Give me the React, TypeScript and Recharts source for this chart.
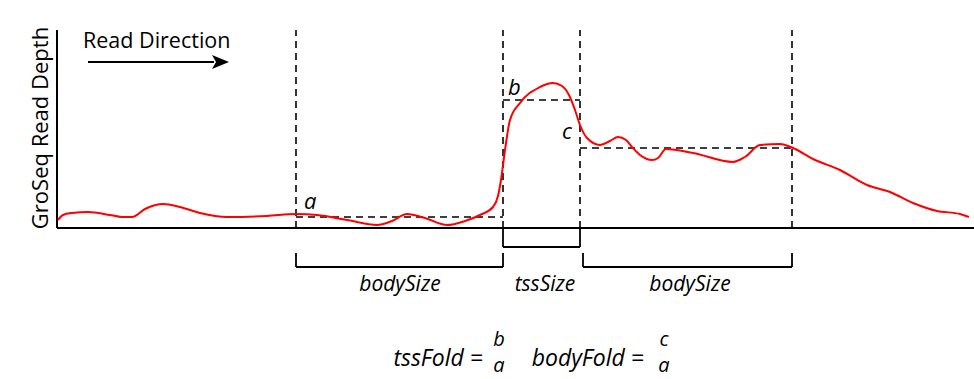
import {
  ComposedChart,
  Line,
  XAxis,
  YAxis,
  ReferenceLine,
} from "recharts";

// genomic position (arbitrary units along the gene) and GroSeq read depth
const position = [
  1, 6, 15, 31, 53, 65, 75, 88, 106, 123, 143, 170, 210, 239, 260, 290, 320,
  335, 350, 368, 390, 408, 423, 436, 441, 444, 448, 453, 463, 483, 496, 505,
  512, 518, 523, 530, 543, 553, 561, 569, 575, 583, 595, 601, 609, 636, 676,
  688, 703, 723, 736, 756, 783, 810, 833, 856, 880, 903, 912,
];
const depth = [
  8, 13, 15, 16, 13, 11, 11, 19, 24, 21, 15, 11, 12, 14, 13, 8, 3, 7, 14, 10,
  3, 7, 13, 21, 32, 48, 78, 108, 125, 141, 145, 142, 133, 118, 103, 90, 83, 87,
  91, 88, 81, 73, 68, 70, 79, 75, 66, 71, 83, 84, 80, 69, 58, 43, 36, 25, 17,
  14, 11,
];

// region boundaries: body start, TSS start, TSS end, body end
const boundaries = [239, 446, 523, 735];
// mean levels a (upstream body), b (tss), c (downstream body)
const levels = { a: 11, b: 128, c: 80 };

const data = position.map((x, i) => ({ x, depth: depth[i] }));

const font = "'Open Sans', sans-serif";

export default function App() {
  const [bodyStart, tssStart, tssEnd, bodyEnd] = boundaries;
  const dash = "7 5";
  return (
    <div style={{ position: "absolute", left: 0, top: 0, width: 974, height: 379 }}>
      <ComposedChart
        width={974}
        height={379}
        data={data}
        margin={{ top: 30, right: 0, bottom: 151, left: 57 }}
      >
        <XAxis type="number" dataKey="x" domain={[0, 917]} hide />
        <YAxis type="number" domain={[0, 198]} hide />

        {boundaries.map((b) => (
          <ReferenceLine
            key={b}
            x={b}
            stroke="#000"
            strokeWidth={1.6}
            strokeDasharray={dash}
          />
        ))}

        <ReferenceLine
          segment={[{ x: bodyStart, y: levels.a }, { x: tssStart, y: levels.a }]}
          stroke="#000"
          strokeWidth={1.6}
          strokeDasharray={dash}
        />
        <ReferenceLine
          segment={[{ x: tssStart, y: levels.b }, { x: tssEnd, y: levels.b }]}
          stroke="#000"
          strokeWidth={1.6}
          strokeDasharray={dash}
        />
        <ReferenceLine
          segment={[{ x: tssEnd, y: levels.c }, { x: bodyEnd, y: levels.c }]}
          stroke="#000"
          strokeWidth={1.6}
          strokeDasharray={dash}
        />

        {/* axes */}
        <ReferenceLine x={0} stroke="#000" strokeWidth={2} />
        <ReferenceLine y={0} stroke="#000" strokeWidth={2} />

        {[
          // tssSize bracket
          [{ x: tssStart, y: 0 }, { x: tssStart, y: -19 }],
          [{ x: tssStart, y: -19 }, { x: tssEnd, y: -19 }],
          [{ x: tssEnd, y: -19 }, { x: tssEnd, y: 0 }],
          // upstream bodySize bracket
          [{ x: bodyStart, y: -25 }, { x: bodyStart, y: -39 }],
          [{ x: bodyStart, y: -39 }, { x: tssStart, y: -39 }],
          [{ x: tssStart, y: -39 }, { x: tssStart, y: -25 }],
          // downstream bodySize bracket
          [{ x: tssEnd + 3, y: -25 }, { x: tssEnd + 3, y: -39 }],
          [{ x: tssEnd + 3, y: -39 }, { x: bodyEnd, y: -39 }],
          [{ x: bodyEnd, y: -39 }, { x: bodyEnd, y: -25 }],
        ].map((seg, i) => (
          <ReferenceLine
            key={"br" + i}
            segment={seg}
            stroke="#000"
            strokeWidth={1.8}
            ifOverflow="visible"
          />
        ))}

        <Line
          type="monotone"
          dataKey="depth"
          stroke="#ff0000"
          strokeWidth={2}
          dot={false}
          isAnimationActive={false}
        />
      </ComposedChart>

      <svg
        width={974}
        height={379}
        style={{ position: "absolute", left: 0, top: 0, pointerEvents: "none" }}
        fontFamily={font}
      >
        <text x={83} y={48} fontSize={21.5} fill="#000">Read Direction</text>
        <line x1={88} y1={62} x2={214} y2={62} stroke="#000" strokeWidth={2} />
        <path d="M212,55 L229,62 L212,69 L216,62 z" fill="#000" />

        <text
          x={0}
          y={0}
          fontSize={22}
          fill="#000"
          textAnchor="middle"
          dominantBaseline="central"
          transform="translate(39,128) rotate(-90)"
        >
          GroSeq Read Depth
        </text>

        <g fontStyle="italic" fontSize={22} fill="#000">
          <text x={304} y={209}>a</text>
          <text x={508} y={95}>b</text>
          <text x={562} y={139}>c</text>
        </g>
        <g fontStyle="italic" fontSize={21} fill="#000">
          <text x={400} y={291} textAnchor="middle">bodySize</text>
          <text x={545} y={291} textAnchor="middle">tssSize</text>
          <text x={690} y={291} textAnchor="middle">bodySize</text>
        </g>

        <g fontStyle="italic" fontSize={23} fill="#000">
          <text x={483} y={366} textAnchor="end">tssFold =</text>
          <text x={644} y={366} textAnchor="end">bodyFold =</text>
        </g>
        <g fontStyle="italic" fontSize={20} fill="#000" textAnchor="middle">
          <text x={499} y={346}>b</text>
          <text x={499} y={372}>a</text>
          <text x={664} y={346}>c</text>
          <text x={664} y={372}>a</text>
        </g>
      </svg>
    </div>
  );
}
